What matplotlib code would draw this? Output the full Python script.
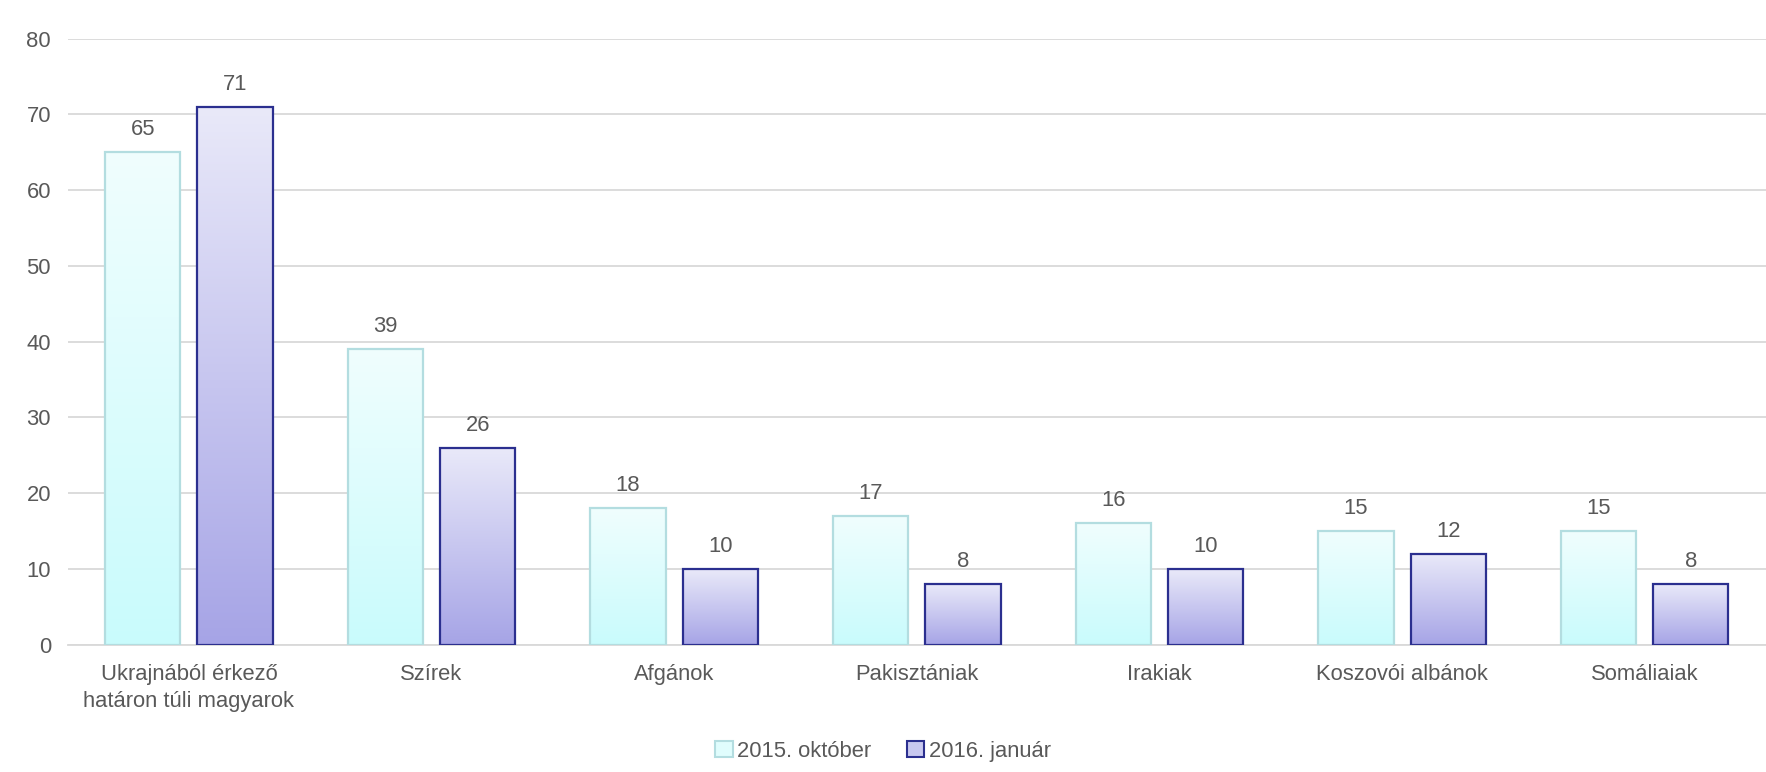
import numpy as np
import matplotlib
matplotlib.use("Agg")
import matplotlib.pyplot as plt
from matplotlib.patches import Patch
from matplotlib.colors import LinearSegmentedColormap

plt.rcParams["font.family"] = ["Liberation Sans", "DejaVu Sans"]

categories = ["Ukrajnából érkező\nhatáron túli magyarok", "Szírek", "Afgánok",
              "Pakisztániak", "Irakiak", "Koszovói albánok", "Somáliaiak"]
oct_2015 = [65, 39, 18, 17, 16, 15, 15]
jan_2016 = [71, 26, 10, 8, 10, 12, 8]
series_names = ["2015. október", "2016. január"]

TXT = "#595959"
W = 0.31
OFF = 0.19
FS = 15.8

fig = plt.figure(figsize=(17.66, 7.72), dpi=100)
ax = fig.add_axes([0.0383, 0.165, 0.9617, 0.785])

x = np.arange(len(categories))
cm1 = LinearSegmentedColormap.from_list("c1", ["#c9fbfc", "#f0fefe"])
cm2 = LinearSegmentedColormap.from_list("c2", ["#a6a4e6", "#e9e9f9"])
grad = np.linspace(0, 1, 256).reshape(-1, 1)

for vals, off, cmap, ec in [(oct_2015, -OFF, cm1, "#b3dde0"),
                            (jan_2016, OFF, cm2, "#2b2f8f")]:
    bars = ax.bar(x + off, vals, W, color="none", edgecolor=ec, lw=1.6, zorder=3)
    for b, v in zip(bars, vals):
        im = ax.imshow(grad, cmap=cmap, origin="lower", aspect="auto",
                       extent=[b.get_x(), b.get_x() + W, 0, v], zorder=2)
        im.set_clip_path(b)
        ax.text(b.get_x() + W / 2, v + 1.6, f"{v}", ha="center", va="bottom",
                fontsize=FS, color=TXT)

ax.set_xlim(-0.5, len(categories) - 0.5)
ax.set_ylim(0, 80)
ax.set_yticks(range(0, 81, 10))
ax.set_xticks(x)
ax.set_xticklabels(categories, fontsize=FS, color=TXT, linespacing=1.35)
ax.tick_params(axis="y", labelsize=FS, colors=TXT, length=0, pad=12)
ax.tick_params(axis="x", length=0, pad=14)
ax.grid(axis="y", color="#d9d9d9", lw=1.3, zorder=0)
ax.set_axisbelow(True)
for s in ["top", "right", "left"]:
    ax.spines[s].set_visible(False)
ax.spines["bottom"].set_color("#d9d9d9")
ax.spines["bottom"].set_linewidth(1.3)

handles = [Patch(facecolor="#e0fdfd", edgecolor="#b3dde0", lw=1.5),
           Patch(facecolor="#c8c8f0", edgecolor="#2b2f8f", lw=1.5)]
fig.legend(handles, series_names, loc="center", bbox_to_anchor=(0.5, 0.027),
           ncol=2, frameon=False, fontsize=FS, labelcolor=TXT,
           handlelength=0.8, handleheight=0.8, handletextpad=0.2, columnspacing=1.6)

fig.savefig("out.png", dpi=100, facecolor="white")
